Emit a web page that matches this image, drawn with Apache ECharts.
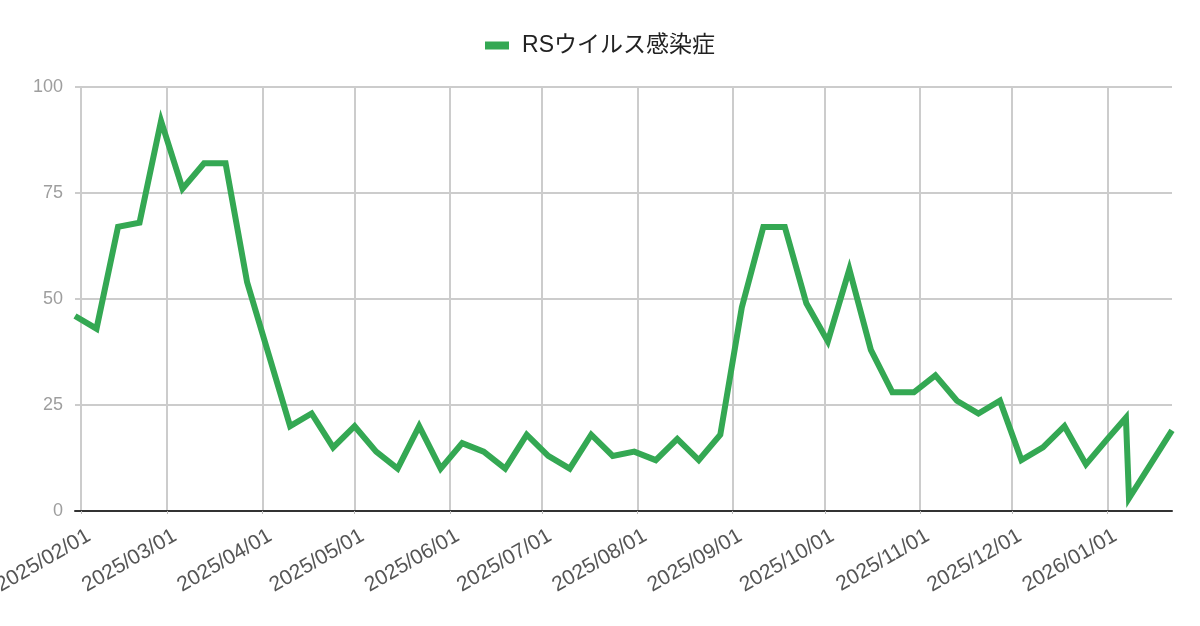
<!DOCTYPE html>
<html>
<head>
<meta charset="utf-8">
<title>RSウイルス感染症</title>
<script src="https://cdn.jsdelivr.net/npm/echarts@6/dist/echarts.min.js"></script>
<style>
  html, body { margin: 0; padding: 0; background: #fff; }
  #chart { width: 1200px; height: 626px; }
</style>
</head>
<body>
<div id="chart"></div>
<script>
// weekly report dates (the year-end weeks are uneven in the source)
var dates = [
  '2025-01-30', '2025-02-06', '2025-02-13', '2025-02-20', '2025-02-27',
  '2025-03-06', '2025-03-13', '2025-03-20', '2025-03-27', '2025-04-03',
  '2025-04-10', '2025-04-17', '2025-04-24', '2025-05-01', '2025-05-08',
  '2025-05-15', '2025-05-22', '2025-05-29', '2025-06-05', '2025-06-12',
  '2025-06-19', '2025-06-26', '2025-07-03', '2025-07-10', '2025-07-17',
  '2025-07-24', '2025-07-31', '2025-08-07', '2025-08-14', '2025-08-21',
  '2025-08-28', '2025-09-04', '2025-09-11', '2025-09-18', '2025-09-25',
  '2025-10-02', '2025-10-09', '2025-10-16', '2025-10-23', '2025-10-30',
  '2025-11-06', '2025-11-13', '2025-11-20', '2025-11-27', '2025-12-04',
  '2025-12-11', '2025-12-18', '2025-12-25', '2026-01-01', '2026-01-07',
  '2026-01-08', '2026-01-15', '2026-01-22'
]
var rsv = [
  46, 43, 67, 68, 92,
  76, 82, 82, 54, 37,
  20, 23, 15, 20, 14,
  10, 20, 10, 16, 14,
  10, 18, 13, 10, 18,
  13, 14, 12, 17, 12,
  18, 48, 67, 67, 49,
  40, 57, 38, 28, 28,
  32, 26, 23, 26, 12,
  15, 20, 11, 17, 22,
  3, 11, 19
]
var yTicks = [0, 25, 50, 75, 100]
var seriesName = 'RSウイルス感染症'

var font = 'Liberation Sans, Arial, Noto Sans CJK JP, sans-serif'
var chart = echarts.init(document.getElementById('chart'))

var option = {
  animation: false,
  backgroundColor: '#fff',
  color: ['#34a853'],
  legend: {
    top: 29,
    left: 'center',
    icon: 'rect',
    itemWidth: 24,
    itemHeight: 8,
    textStyle: {
      fontFamily: font,
      fontSize: 23,
      color: '#222',
      padding: [0, 0, 0, 8]
    },
    data: [seriesName]
  },
  grid: {
    left: 75,
    right: 28,
    top: 87,
    bottom: 115,
    outerBoundsMode: 'none'
  },
  xAxis: {
    type: 'time',
    min: dates[0],
    max: dates[dates.length - 1],
    splitNumber: 12,
    axisLine: {
      lineStyle: { color: '#333', width: 2 }
    },
    axisTick: {
      show: true,
      length: 3,
      lineStyle: { color: '#bbb' }
    },
    axisLabel: {
      formatter: '{yyyy}/{MM}/{dd}',
      rotate: 30,
      margin: 28,
      padding: [0, -9, 0, 0],
      fontFamily: font,
      fontSize: 21,
      color: '#555',
      showMinLabel: false,
      showMaxLabel: false,
      hideOverlap: false
    },
    splitLine: {
      show: true,
      showMinLine: false,
      showMaxLine: false,
      lineStyle: { color: '#ccc', width: 2 }
    }
  },
  yAxis: {
    type: 'value',
    min: yTicks[0],
    max: yTicks[yTicks.length - 1],
    interval: 25,
    axisLine: { show: false },
    axisTick: { show: false },
    axisLabel: {
      margin: 12,
      fontFamily: font,
      fontSize: 18,
      color: '#9e9e9e'
    },
    splitLine: {
      lineStyle: { color: '#ccc', width: 2 }
    }
  },
  series: [
    {
      name: seriesName,
      type: 'line',
      showSymbol: false,
      lineStyle: { width: 6, join: 'miter' },
      data: dates.map(function (d, i) {
        return [d, rsv[i]]
      })
    }
  ]
}
chart.setOption(option)
</script>
</body>
</html>
